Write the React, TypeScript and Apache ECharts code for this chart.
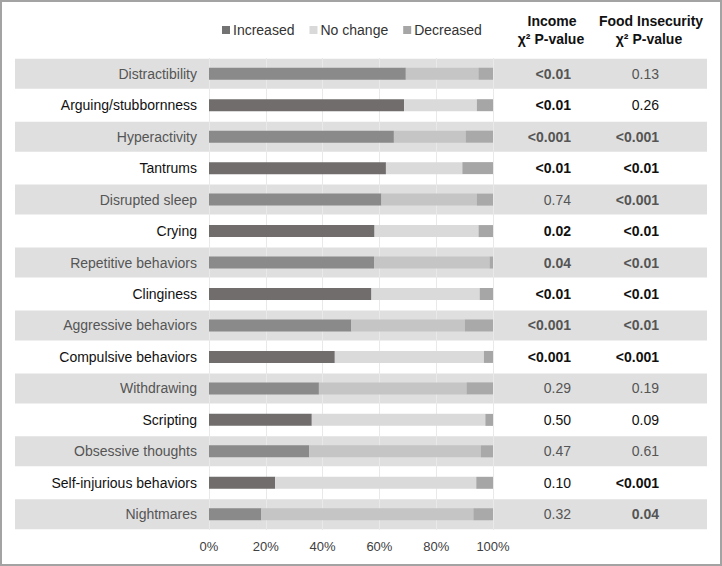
import React, { useEffect, useRef } from "react";
import * as echarts from "echarts";

const categories = [
  "Distractibility",
  "Arguing/stubbornness",
  "Hyperactivity",
  "Tantrums",
  "Disrupted sleep",
  "Crying",
  "Repetitive behaviors",
  "Clinginess",
  "Aggressive behaviors",
  "Compulsive behaviors",
  "Withdrawing",
  "Scripting",
  "Obsessive thoughts",
  "Self-injurious behaviors",
  "Nightmares",
];
const increased = [69.3, 68.7, 65.1, 62.3, 60.7, 58.3, 58.1, 57.2, 50.1, 44.3, 38.7, 36.2, 35.3, 23.3, 18.4];
const noChange = [25.6, 25.6, 25.3, 26.9, 33.6, 36.6, 40.7, 38.1, 40.0, 52.5, 52.0, 61.1, 60.4, 70.8, 74.7];
const decreased = [5.1, 5.7, 9.6, 10.8, 5.7, 5.1, 1.2, 4.7, 9.9, 3.2, 9.3, 2.7, 4.3, 5.9, 6.9];
const incomeP = ["<0.01", "<0.01", "<0.001", "<0.01", "0.74", "0.02", "0.04", "<0.01", "<0.001", "<0.001", "0.29", "0.50", "0.47", "0.10", "0.32"];
const incomeSig = [true, true, true, true, false, true, true, true, true, true, false, false, false, false, false];
const foodP = ["0.13", "0.26", "<0.001", "<0.01", "<0.001", "<0.01", "<0.01", "<0.01", "<0.01", "<0.001", "0.19", "0.09", "0.61", "<0.001", "0.04"];
const foodSig = [false, false, true, true, true, true, true, true, true, true, false, false, false, true, true];
const xTicks = [0, 20, 40, 60, 80, 100];
const seriesNames = ["Increased", "No change", "Decreased"];

const FONT = "'Liberation Sans', Arial, Helvetica, sans-serif";
const whiteColors = ["#716d6d", "#dadada", "#a6a6a6"];
const grayColors = ["#8a8a8a", "#c5c5c5", "#a9a9a9"];
const legendColors = ["#737373", "#d9d9d9", "#a6a6a6"];
const isGray = (i: number) => i % 2 === 0;

const rich = {
  a: { fontFamily: FONT, fontSize: 14, color: "#111111", fontWeight: "normal" as const },
  b: { fontFamily: FONT, fontSize: 14, color: "#111111", fontWeight: "bold" as const },
  c: { fontFamily: FONT, fontSize: 14, color: "#555555", fontWeight: "normal" as const },
  d: { fontFamily: FONT, fontSize: 14, color: "#555555", fontWeight: "bold" as const },
};
const styleKey = (i: number, bold: boolean) => (isGray(i) ? (bold ? "d" : "c") : bold ? "b" : "a");

export default function App() {
  const ref = useRef<HTMLDivElement>(null);
  useEffect(() => {
    if (!ref.current) return;
    const chart = echarts.init(ref.current, null, { renderer: "svg" });
    const values = [increased, noChange, decreased];
    const gridTop = 58;
    const gridBottom = 36;
    chart.setOption({
      animation: false,
      backgroundColor: "#ffffff",
      textStyle: { fontFamily: FONT },
      legend: {
        data: seriesNames,
        left: 217,
        top: 18,
        itemWidth: 8,
        itemHeight: 8,
        itemGap: 15,
        icon: "rect",
        textStyle: { fontFamily: FONT, fontSize: 14, color: "#333333", padding: [0, 0, 0, -2] },
      },
      grid: [
        { left: 209, right: 229, top: gridTop, bottom: gridBottom },
        { left: 15, right: 15, top: gridTop, bottom: gridBottom },
      ],
      xAxis: [
        {
          type: "value",
          gridIndex: 0,
          min: 0,
          max: 100,
          interval: 20,
          z: 1,
          axisLine: { show: false },
          axisTick: { show: false },
          splitLine: { show: true, lineStyle: { color: "#e9e9e9", width: 1 } },
          axisLabel: {
            formatter: (v: number) => (xTicks.includes(v) ? `${v}%` : ""),
            fontFamily: FONT,
            fontSize: 13,
            color: "#404040",
            margin: 10,
          },
        },
        { type: "value", gridIndex: 1, min: 0, max: 1, show: false },
      ],
      yAxis: [
        {
          type: "category",
          gridIndex: 0,
          data: categories,
          inverse: true,
          axisLine: { show: false },
          axisTick: { show: false },
          axisLabel: {
            margin: 12,
            formatter: (v: string, i: number) => `{${styleKey(i, false)}|${v}}`,
            rich,
          },
        },
        {
          type: "category",
          gridIndex: 0,
          position: "right",
          data: categories,
          inverse: true,
          axisLine: { show: false },
          axisTick: { show: false },
          axisLabel: {
            align: "right",
            margin: 78,
            formatter: (_v: string, i: number) => `{${styleKey(i, incomeSig[i])}|${incomeP[i]}}`,
            rich,
          },
        },
        {
          type: "category",
          gridIndex: 0,
          position: "right",
          data: categories,
          inverse: true,
          axisLine: { show: false },
          axisTick: { show: false },
          axisLabel: {
            align: "right",
            margin: 166,
            formatter: (_v: string, i: number) => `{${styleKey(i, foodSig[i])}|${foodP[i]}}`,
            rich,
          },
        },
        { type: "category", gridIndex: 1, data: categories, inverse: true, show: false },
      ],
      series: [
        {
          name: "stripes",
          type: "bar",
          xAxisIndex: 1,
          yAxisIndex: 3,
          barWidth: 30,
          silent: true,
          z: 0,
          itemStyle: { color: "#dfdfdf" },
          data: categories.map((_, i) => (isGray(i) ? 1 : "-")),
        },
        ...seriesNames.map((name, s) => ({
          name,
          type: "bar",
          stack: "total",
          xAxisIndex: 0,
          yAxisIndex: 0,
          barWidth: 12,
          z: 2,
          itemStyle: { color: legendColors[s] },
          data: values[s].map((v, i) => ({
            value: v,
            itemStyle: { color: isGray(i) ? grayColors[s] : whiteColors[s] },
          })),
        })),
      ],
      graphic: [
        {
          type: "text",
          x: 552,
          y: 21,
          style: { text: "Income", fontFamily: FONT, fontSize: 14, fontWeight: "bold", fill: "#111", align: "center", verticalAlign: "middle" },
        },
        {
          type: "text",
          x: 551,
          y: 39,
          style: { text: "χ² P-value", fontFamily: FONT, fontSize: 14, fontWeight: "bold", fill: "#111", align: "center", verticalAlign: "middle" },
        },
        {
          type: "text",
          x: 651,
          y: 21,
          style: { text: "Food Insecurity", fontFamily: FONT, fontSize: 14, fontWeight: "bold", fill: "#111", align: "center", verticalAlign: "middle" },
        },
        {
          type: "text",
          x: 649,
          y: 39,
          style: { text: "χ² P-value", fontFamily: FONT, fontSize: 14, fontWeight: "bold", fill: "#111", align: "center", verticalAlign: "middle" },
        },
      ],
    });
    return () => chart.dispose();
  }, []);

  return (
    <div style={{ position: "fixed", left: 0, top: 0, width: 722, height: 566 }}>
      <div ref={ref} style={{ position: "absolute", left: 0, top: 0, width: 722, height: 566 }} />
      <div
        style={{
          position: "absolute",
          left: 0,
          top: 0,
          width: 722,
          height: 566,
          boxSizing: "border-box",
          border: "2px solid #a3a3a3",
          pointerEvents: "none",
        }}
      />
    </div>
  );
}
